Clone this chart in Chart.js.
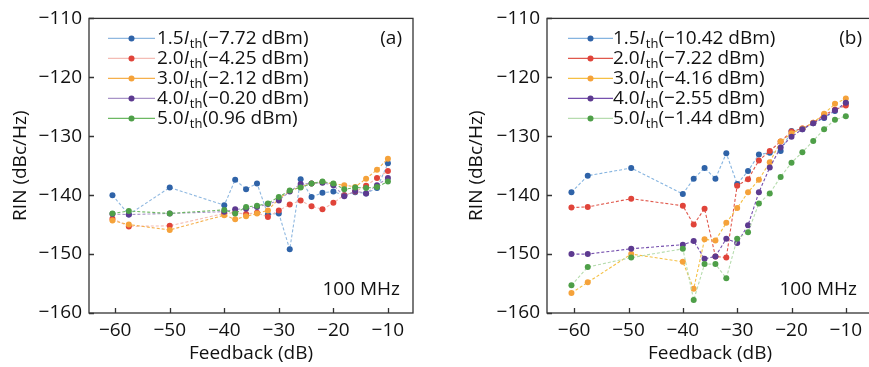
<!DOCTYPE html>
<html>
<head>
<meta charset="utf-8">
<script src="https://cdn.jsdelivr.net/npm/chart.js@4.4.0/dist/chart.umd.min.js"></script>
<style>
  html, body { margin: 0; padding: 0; background: #fff; overflow: hidden; width: 869px; height: 367px; }
  #ca { position: absolute; left: 0; top: 0; }
  #cb { position: absolute; left: 435px; top: 0; }
</style>
</head>
<body>
<canvas id="ca" width="430" height="367"></canvas>
<canvas id="cb" width="445" height="367"></canvas>
<script>
// feedback levels (dB)
const feedbackA = [-60.5, -57.5, -50, -40, -38, -36, -34, -32, -30, -28, -26, -24, -22, -20, -18, -16, -14, -12, -10];
const feedbackB = [-60.5, -57.5, -49.5, -40, -38, -36, -34, -32, -30, -28, -26, -24, -22, -20, -18, -16, -14, -12, -10];

const xTicks = [-60, -50, -40, -30, -20, -10];
const yTicks = [-160, -150, -140, -130, -120, -110];

const currents = ['1.5', '2.0', '3.0', '4.0', '5.0'];
const powerA = ['(−7.72 dBm)', '(−4.25 dBm)', '(−2.12 dBm)', '(−0.20 dBm)', '(0.96 dBm)'];
const powerB = ['(−10.42 dBm)', '(−7.22 dBm)', '(−4.16 dBm)', '(−2.55 dBm)', '(−1.44 dBm)'];

// RIN (dBc/Hz), panel (a)
const rinA15 = [-140.0, -143.3, -138.7, -141.7, -137.4, -139.0, -138.0, -143.3, -143.1, -149.2, -137.3, -140.3, -139.6, -139.4, -140.0, -139.5, -139.7, -138.8, -134.6];
const rinA20 = [-144.0, -145.3, -145.2, -143.1, -143.0, -143.2, -143.0, -143.7, -142.6, -141.6, -140.9, -141.9, -142.4, -141.3, -140.0, -139.4, -138.4, -137.1, -135.9];
const rinA30 = [-144.3, -145.0, -145.9, -143.4, -144.1, -143.6, -143.1, -142.6, -140.6, -139.3, -138.6, -138.0, -137.8, -138.1, -138.3, -138.6, -137.2, -135.7, -133.8];
const rinA40 = [-143.2, -143.3, -143.1, -142.8, -142.4, -142.3, -142.0, -141.5, -140.9, -139.4, -138.1, -138.0, -137.9, -138.3, -140.2, -139.3, -139.7, -138.3, -137.1];
const rinA50 = [-143.1, -142.7, -143.1, -142.5, -143.1, -142.0, -141.8, -141.4, -140.3, -139.2, -138.7, -138.0, -137.7, -138.0, -139.0, -138.7, -138.8, -138.6, -137.7];

// RIN (dBc/Hz), panel (b)
const rinB15 = [-139.5, -136.7, -135.4, -139.8, -137.2, -135.4, -137.2, -132.9, -138.1, -135.9, -133.1, -132.8, -132.5, -129.1, -128.8, -127.8, -126.9, -125.7, -124.4];
const rinB20 = [-142.1, -142.0, -140.6, -141.8, -145.0, -142.3, -150.4, -150.6, -138.4, -137.3, -134.1, -132.5, -130.9, -129.2, -128.7, -127.7, -126.4, -125.5, -124.8];
const rinB30 = [-156.6, -154.8, -150.0, -151.3, -155.9, -147.5, -147.7, -144.7, -142.2, -139.5, -137.4, -134.4, -130.9, -129.5, -128.7, -127.7, -126.2, -124.5, -123.6];
const rinB40 = [-150.0, -150.0, -149.1, -148.4, -147.8, -150.8, -150.4, -147.4, -148.1, -145.1, -139.5, -135.3, -131.9, -130.1, -128.8, -127.8, -126.8, -125.6, -124.3];
const rinB50 = [-155.3, -152.2, -150.6, -149.1, -157.8, -151.7, -151.7, -154.1, -147.4, -146.3, -141.4, -139.7, -136.9, -134.5, -132.7, -130.8, -128.8, -127.2, -126.6];

const markerColors = ['#2f63a8', '#e0443a', '#f5a23a', '#5d3a90', '#4e9f48'];
const lineColorsA = ['#8fb8e0', '#f4bcb4', '#f5b04c', '#a893c8', '#6cb862'];
const lineColorsB = ['#85b4e0', '#e0584c', '#f5c044', '#7650ae', '#b6dcae'];

const FONT = '"Open Sans", "DejaVu Sans", sans-serif';
const TXT = '#111';
const fmt = v => String(v).replace('-', '−');

function makeSets(xs, series, lineColors) {
  return series.map((ys, i) => ({
    data: xs.map((x, j) => ({ x: x, y: ys[j] })),
    borderColor: lineColors[i],
    borderWidth: 1.1,
    borderDash: [3, 2],
    pointRadius: 3,
    pointBorderWidth: 0,
    pointBackgroundColor: markerColors[i],
    tension: 0,
    order: 5 - i
  }));
}

function decor(opts) {
  return {
    id: 'decor',
    afterDraw(chart) {
      const { ctx, chartArea: a, scales } = chart;
      ctx.save();
      ctx.strokeStyle = '#333';
      ctx.lineWidth = 1.3;
      ctx.setLineDash([]);
      ctx.strokeRect(a.left, a.top, a.right - a.left, a.bottom - a.top);
      ctx.beginPath();
      xTicks.forEach(v => {
        const px = Math.round(scales.x.getPixelForValue(v)) + 0.5;
        ctx.moveTo(px, a.bottom); ctx.lineTo(px, a.bottom - 5);
      });
      yTicks.forEach(v => {
        const py = Math.round(scales.y.getPixelForValue(v)) + 0.5;
        ctx.moveTo(a.left, py); ctx.lineTo(a.left + 5, py);
      });
      ctx.stroke();

      // legend
      chart.data.datasets.forEach((ds, i) => {
        const y = a.top + 20 + 20 * i;
        const x0 = a.left + opts.legX;
        ctx.strokeStyle = ds.borderColor;
        ctx.lineWidth = 1.3;
        ctx.beginPath();
        ctx.moveTo(x0, y); ctx.lineTo(x0 + opts.legLen, y);
        ctx.stroke();
        ctx.fillStyle = markerColors[i];
        ctx.beginPath();
        ctx.arc(x0 + opts.legLen / 2, y, 3, 0, Math.PI * 2);
        ctx.fill();
        let tx = x0 + opts.legLen + opts.gap;
        ctx.fillStyle = TXT;
        ctx.textBaseline = 'middle';
        ctx.textAlign = 'left';
        ctx.font = '19px ' + FONT;
        ctx.fillText(currents[i], tx, y);
        tx += ctx.measureText(currents[i]).width;
        ctx.font = 'italic 19px ' + FONT;
        ctx.fillText('I', tx, y);
        tx += ctx.measureText('I').width + 1;
        ctx.font = '13px ' + FONT;
        ctx.fillText('th', tx, y + 6);
        tx += ctx.measureText('th').width;
        ctx.font = '19px ' + FONT;
        ctx.fillText(opts.powers[i], tx, y);
      });

      ctx.font = '19px ' + FONT;
      ctx.fillStyle = TXT;
      ctx.textAlign = 'right';
      ctx.textBaseline = 'middle';
      ctx.fillText(opts.tag, a.left + opts.tagX, a.top + 20);
      ctx.fillText('100 MHz', a.left + opts.mhzX, 290);
      ctx.restore();
    }
  };
}

function makeChart(id, sets, xMin, xMax, yWidth, padRight, titlePad, opts) {
  new Chart(document.getElementById(id), {
    type: 'line',
    data: { datasets: sets },
    options: {
      responsive: false,
      animation: false,
      layout: { padding: { top: 13, right: padRight, bottom: 0, left: 0 } },
      plugins: { legend: { display: false }, tooltip: { enabled: false } },
      scales: {
        x: {
          type: 'linear', min: xMin, max: xMax,
          afterBuildTicks: s => { s.ticks = xTicks.map(v => ({ value: v })); },
          afterFit: s => { s.height = 54; },
          grid: { display: false, drawTicks: false },
          border: { display: false },
          ticks: { padding: 6, color: TXT, font: { family: FONT, size: 19 }, callback: v => fmt(v) },
          title: { display: true, text: 'Feedback (dB)', color: TXT, font: { family: FONT, size: 19 }, padding: { top: 0, bottom: 2 } }
        },
        y: {
          type: 'linear', min: -160, max: -110,
          afterBuildTicks: s => { s.ticks = yTicks.map(v => ({ value: v })); },
          afterFit: s => { s.width = yWidth; },
          grid: { display: false, drawTicks: false },
          border: { display: false },
          ticks: { padding: 7, color: TXT, font: { family: FONT, size: 19 }, callback: v => fmt(v) },
          title: { display: true, text: 'RIN (dBc/Hz)', color: TXT, font: { family: FONT, size: 19 }, padding: { top: titlePad, bottom: 0 } }
        }
      }
    },
    plugins: [decor(opts)]
  });
}

makeChart('ca', makeSets(feedbackA, [rinA15, rinA20, rinA30, rinA40, rinA50], lineColorsA),
  -64.8, -5.4, 89, 17, 9,
  { legX: 19, legLen: 47, gap: 2, powers: powerA, tag: '(a)', tagX: 313, mhzX: 311 });

makeChart('cb', makeSets(feedbackB, [rinB15, rinB20, rinB30, rinB40, rinB50], lineColorsB),
  -65, -5, 112, 7, 30,
  { legX: 21, legLen: 45, gap: 0, powers: powerB, tag: '(b)', tagX: 315, mhzX: 310 });
</script>
</body>
</html>
